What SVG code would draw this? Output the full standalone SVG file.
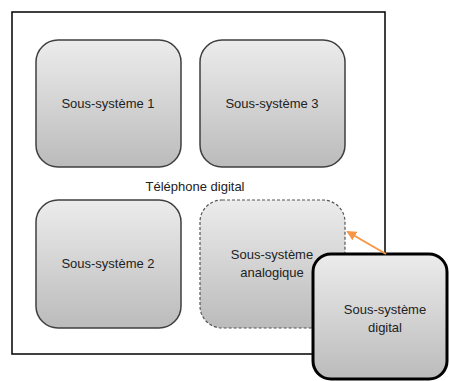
<svg xmlns="http://www.w3.org/2000/svg" width="449" height="381" viewBox="0 0 449 381">
<defs>
<linearGradient id="g" x1="0" y1="0" x2="0" y2="1">
<stop offset="0" stop-color="#ECECEC"/>
<stop offset="1" stop-color="#BBBBBB"/>
</linearGradient>
<marker id="ah" viewBox="0 0 10 10" refX="8" refY="5" markerWidth="5" markerHeight="5" orient="auto" markerUnits="strokeWidth">
<path d="M0,0 L10,5 L0,10 Z" fill="#F79646"/>
</marker>
<style>
.box{fill:url(#g);stroke:#3F3F3F;stroke-width:1.5}
.dash{fill:url(#g);stroke:#555;stroke-width:1.2;stroke-dasharray:3 2}
.thick{fill:url(#g);stroke:#000;stroke-width:3}
text{font-family:"Liberation Sans",Arial,sans-serif;font-size:13px;fill:#222;text-anchor:middle}
</style>
</defs>
<rect width="449" height="381" fill="#fff"/>
<g id="telephone">
<rect x="12" y="12" width="373" height="342" fill="#fff" stroke="#000" stroke-width="1.5"/>
<text x="195" y="191">Téléphone digital</text>
</g>
<g id="ss1">
<rect class="box" x="36" y="40" width="145" height="127" rx="22"/>
<text x="108" y="108">Sous-système 1</text>
</g>
<g id="ss3">
<rect class="box" x="200" y="40" width="145" height="127" rx="22"/>
<text x="272" y="108">Sous-système 3</text>
</g>
<g id="ss2">
<rect class="box" x="36" y="200" width="145" height="128" rx="22"/>
<text x="108" y="268">Sous-système 2</text>
</g>
<g id="ssa">
<rect class="dash" x="200" y="200" width="145" height="128" rx="22"/>
<text x="272" y="259">Sous-système</text>
<text x="272" y="277">analogique</text>
</g>
<g id="ssd">
<rect class="thick" x="313" y="254" width="134" height="125" rx="18"/>
<text x="385" y="314">Sous-système</text>
<text x="385" y="332">digital</text>
</g>
<g id="connectors">
<line x1="386" y1="254" x2="348" y2="232" stroke="#F79646" stroke-width="2" marker-end="url(#ah)"/>
</g>
</svg>
